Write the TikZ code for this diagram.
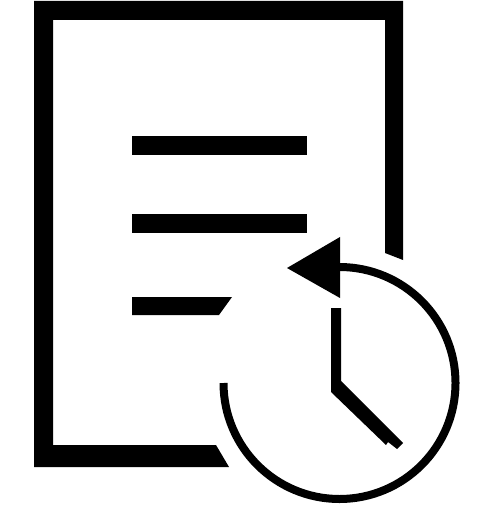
\documentclass[tikz,border=0pt]{standalone}
\usepackage{tikz}
\begin{document}
\begin{tikzpicture}[x=0.75pt, y=-0.75pt,
  solid part/.style={fill=black, draw=none},
  clock ring/.style={draw=black, line width=6pt}]
  \useasboundingbox (0,0) rectangle (494,505);
  \coordinate (C) at (339.5,383);
  % sheet
  \fill[solid part] (403,260)--(403,1)--(34,1)--(34,467)--(229,467)--(216,445)
    --(53,445)--(53,20)--(385,20)--(385,253)--cycle;
  % text lines
  \fill[solid part] (132,136) rectangle (307,155);
  \fill[solid part] (132,214) rectangle (307,233);
  \fill[solid part] (132,297)--(232,297)--(219,315)--(132,315)--cycle;
  % clock
  \draw[clock ring] (339.5,267) arc (-90:180:116);
  \fill[solid part] (287,268)--(340,237)--(340,298)--cycle;
  \fill[solid part] (331,308)--(341,308)--(341,381)--(403,443)--(397,449)
    --(388,442)--(386,445)--(331,392)--cycle;
\end{tikzpicture}
\end{document}
